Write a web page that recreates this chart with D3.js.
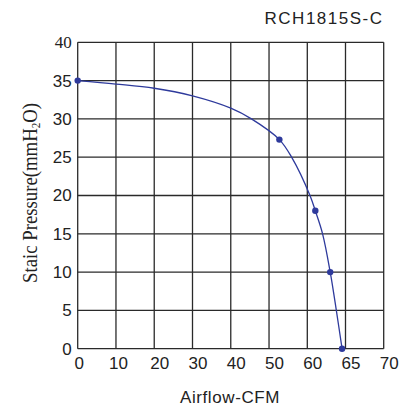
<!DOCTYPE html>
<html><head><meta charset="utf-8">
<script src="https://cdn.jsdelivr.net/npm/d3@7"></script>
<style>body{margin:0;background:#fff}svg{display:block}</style>
</head><body>
<script>
const title = "RCH1815S-C";
// measured points (markers)
const airflow = [0, 52.7, 61.05, 63, 64.55];
const pressure = [35, 27.3, 18, 10, 0];
// curve trace
const curveAirflow = [0, 10, 20, 30, 40, 45.4, 52.7, 55.9, 60.35, 61.05, 62.0, 63.0, 63.8, 64.55];
const curvePressure = [35, 34.55, 34.0, 33.0, 31.4, 30.0, 27.3, 25, 20, 18, 15, 10, 5, 0];
const xTicks = [0, 10, 20, 30, 40, 50, 60, 65, 70];
const yTicks = [0, 5, 10, 15, 20, 25, 30, 35, 40];
const xLabel = "Airflow-CFM";

const W = 402, H = 407;
const svg = d3.select("body").append("svg").attr("width", W).attr("height", H);
const x = d3.scaleLinear().domain([0, 60, 70]).range([77.7, 307.3, 383.7]);
const y = d3.scaleLinear().domain([0, 40]).range([348.7, 42.3]);
const gridColor = "#2a2a2a";
const sans = "'Liberation Sans', Arial, sans-serif";
const serif = "'Liberation Serif', 'Times New Roman', serif";

// grid
svg.append("g").selectAll("line").data(xTicks).join("line")
  .attr("x1", d => x(d)).attr("x2", d => x(d)).attr("y1", y(40)).attr("y2", y(0))
  .attr("stroke", gridColor).attr("stroke-width", 1.3);
svg.append("g").selectAll("line").data(yTicks).join("line")
  .attr("x1", x(0)).attr("x2", x(70)).attr("y1", d => y(d)).attr("y2", d => y(d))
  .attr("stroke", gridColor).attr("stroke-width", 1.3);

// axes labels
const yAxis = d3.axisLeft(y).tickValues(yTicks).tickSize(0).tickPadding(6);
const gy = svg.append("g").attr("transform", `translate(${x(0)},0)`).call(yAxis);
gy.select(".domain").remove();
gy.selectAll("text").attr("font-family", d => d === 40 ? serif : sans).attr("font-size", 17).attr("fill", "#222");

const xAxis = d3.axisBottom(x).tickValues(xTicks).tickSize(0).tickPadding(8);
const gx = svg.append("g").attr("transform", `translate(0,${y(0)})`).call(xAxis);
gx.select(".domain").remove();
gx.selectAll("text").attr("font-family", sans).attr("font-size", 17).attr("fill", "#222")
  .attr("dx", d => d === 0 ? 1 : (d === 10 ? 2 : 5));

// curve
const tracePts = curveAirflow.map((a, i) => [a, curvePressure[i]]);
const pts = airflow.map((a, i) => [a, pressure[i]]);
const line = d3.line().x(d => x(d[0])).y(d => y(d[1])).curve(d3.curveCatmullRom.alpha(0.5));
svg.append("path").datum(tracePts).attr("d", line).attr("fill", "none")
  .attr("stroke", "#2e3a9c").attr("stroke-width", 1.3);
svg.append("g").selectAll("circle").data(pts).join("circle")
  .attr("cx", d => x(d[0])).attr("cy", d => y(d[1])).attr("r", 3.2).attr("fill", "#2e3a9c");

// title
svg.append("text").attr("x", 383.5).attr("y", 24).attr("text-anchor", "end")
  .attr("font-family", sans).attr("font-size", 17).attr("letter-spacing", 1.5)
  .attr("fill", "#222").text(title);

// x label
svg.append("text").attr("x", 230).attr("y", 402.5).attr("text-anchor", "middle")
  .attr("font-family", sans).attr("font-size", 17).attr("letter-spacing", 0.6)
  .attr("fill", "#222").text(xLabel);

// y label
const yl = svg.append("text").attr("transform", "translate(37,193) rotate(-90)")
  .attr("text-anchor", "middle").attr("font-family", serif).attr("font-size", 20.5).attr("fill", "#222")
  .attr("textLength", 180).attr("lengthAdjust", "spacingAndGlyphs");
yl.append("tspan").text("Staic Pressure(mmH");
yl.append("tspan").attr("font-size", 12).attr("dy", 3).text("2");
yl.append("tspan").attr("dy", -3).text("O)");
</script>
</body></html>
